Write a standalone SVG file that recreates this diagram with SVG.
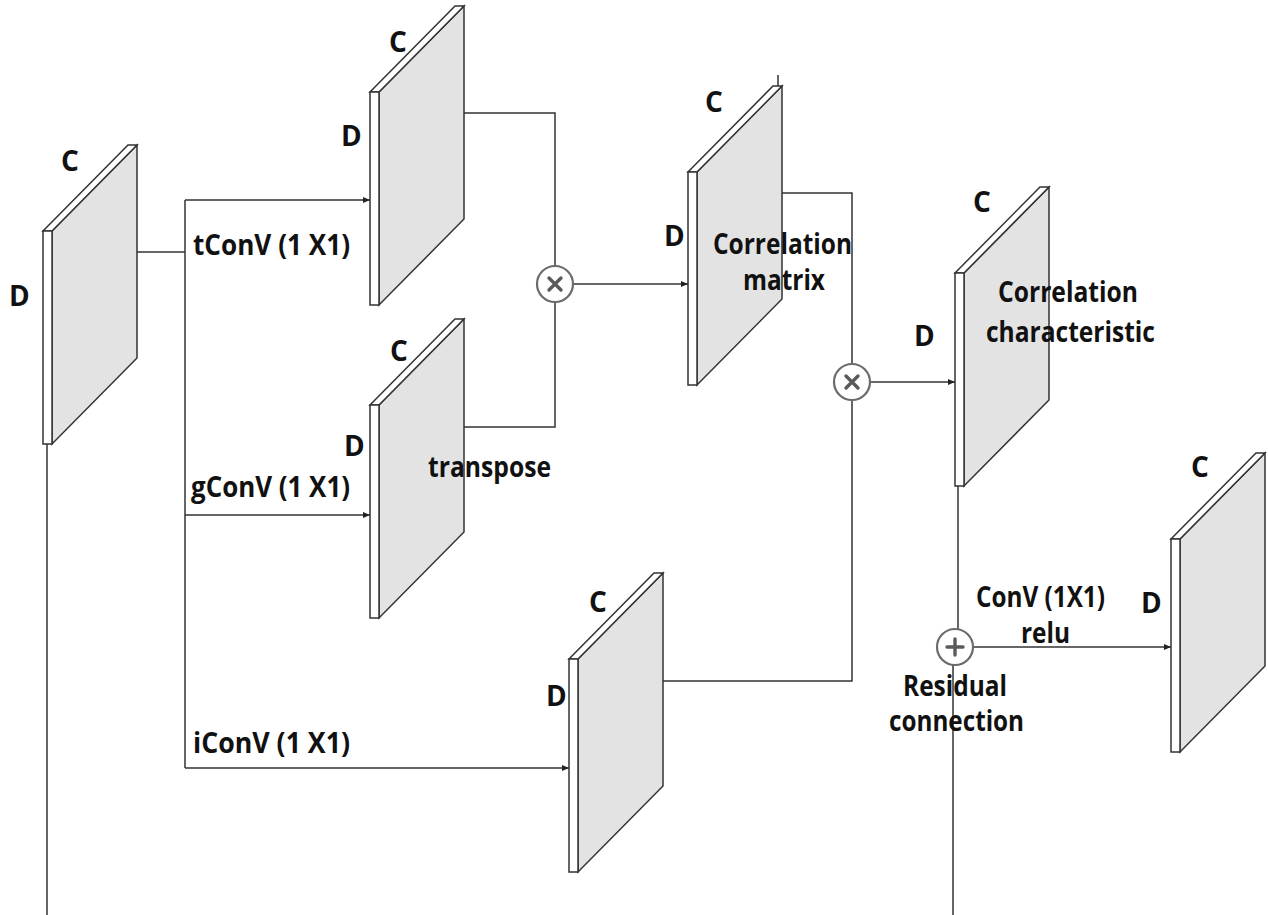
<svg xmlns="http://www.w3.org/2000/svg" width="1268" height="915" viewBox="0 0 1268 915">
<style>
.ln{fill:none;stroke:#333;stroke-width:1.5}
.fr{fill:#fff;stroke:#333;stroke-width:1.5;stroke-linejoin:miter}
.fc{fill:#e3e3e3;stroke:#333;stroke-width:1.5}
.op{fill:#fff;stroke:#6b6b6b;stroke-width:2.2}
.sym{stroke:#5a5a5a;stroke-width:3.4;stroke-linecap:round}
text{font-family:"Open Sans","Liberation Sans",sans-serif;font-weight:bold;font-size:28px;fill:#111}
</style>
<defs>
<marker id="ah" markerWidth="8" markerHeight="8" refX="7" refY="4" orient="auto" markerUnits="userSpaceOnUse">
<path d="M0,1 L7,4 L0,7 Z" fill="#222"/>
</marker>
<g id="slab">
<path class="fc" d="M9,0 L94,-86 L94,127 L9,213 Z"/>
<path class="fr" d="M0,0 L9,0 L94,-86 L85,-86 Z"/>
<rect class="fr" x="0" y="0" width="9" height="213"/>
</g>
</defs>
<g id="connectors">
<path class="ln" d="M47,444 V915"/>
<path class="ln" d="M137,252 H185"/>
<path class="ln" d="M185,200 V768"/>
<path class="ln" d="M185,200 H370" marker-end="url(#ah)"/>
<path class="ln" d="M185,515 H370" marker-end="url(#ah)"/>
<path class="ln" d="M185,768 H569" marker-end="url(#ah)"/>
<path class="ln" d="M464,113 H555 V266"/>
<path class="ln" d="M464,427 H555 V302"/>
<path class="ln" d="M573,284 H688" marker-end="url(#ah)"/>
<path class="ln" d="M778,75 V87"/>
<path class="ln" d="M782,193 H852 V364"/>
<path class="ln" d="M663,681 H852 V400"/>
<path class="ln" d="M870,382 H955" marker-end="url(#ah)"/>
<path class="ln" d="M958,486 V629"/>
<path class="ln" d="M953,665 V915"/>
<path class="ln" d="M973,647 H1171" marker-end="url(#ah)"/>
</g>
<g id="slab1"><use href="#slab" x="43" y="231"/><text x="61" y="171">C</text><text x="9" y="306">D</text></g>
<g id="slab2"><use href="#slab" x="370" y="92"/><text x="389" y="52">C</text><text x="341" y="146">D</text></g>
<g id="slab3"><use href="#slab" x="370" y="405"/><text x="390" y="361">C</text><text x="344" y="456">D</text></g>
<g id="slab4"><use href="#slab" x="688" y="172"/><text x="705" y="112">C</text><text x="664" y="246">D</text></g>
<g id="slab5"><use href="#slab" x="569" y="659"/><text x="589" y="612">C</text><text x="546" y="706">D</text></g>
<g id="slab6"><use href="#slab" x="955" y="273"/><text x="973" y="212">C</text><text x="914" y="346">D</text></g>
<g id="slab7"><use href="#slab" x="1171" y="539"/><text x="1191" y="477">C</text><text x="1141" y="613">D</text></g>
<g id="op1"><circle class="op" cx="555" cy="284" r="18"/><path class="sym" d="M549,278 L561,290 M561,278 L549,290"/></g>
<g id="op2"><circle class="op" cx="852" cy="382" r="18"/><path class="sym" d="M846,376 L858,388 M858,376 L846,388"/></g>
<g id="op3"><circle class="op" cx="955" cy="647" r="18"/><path class="sym" d="M955,639 V655 M947,647 H963"/></g>
<g id="labels">
<text x="193" y="255" textLength="157" lengthAdjust="spacingAndGlyphs">tConV (1 X1)</text>
<text x="191" y="497" textLength="159" lengthAdjust="spacingAndGlyphs">gConV (1 X1)</text>
<text x="193" y="753" textLength="157" lengthAdjust="spacingAndGlyphs">iConV (1 X1)</text>
<text x="428" y="477" textLength="123" lengthAdjust="spacingAndGlyphs">transpose</text>
<text x="713" y="254" textLength="139" lengthAdjust="spacingAndGlyphs">Correlation</text>
<text x="743" y="290" textLength="82" lengthAdjust="spacingAndGlyphs">matrix</text>
<text x="998" y="302" textLength="140" lengthAdjust="spacingAndGlyphs">Correlation</text>
<text x="986" y="342" textLength="169" lengthAdjust="spacingAndGlyphs">characteristic</text>
<text x="976" y="607" textLength="129" lengthAdjust="spacingAndGlyphs">ConV (1X1)</text>
<text x="1021" y="643" textLength="49" lengthAdjust="spacingAndGlyphs">relu</text>
<text x="903" y="696" textLength="104" lengthAdjust="spacingAndGlyphs">Residual</text>
<text x="889" y="731" textLength="135" lengthAdjust="spacingAndGlyphs">connection</text>
</g>
</svg>
